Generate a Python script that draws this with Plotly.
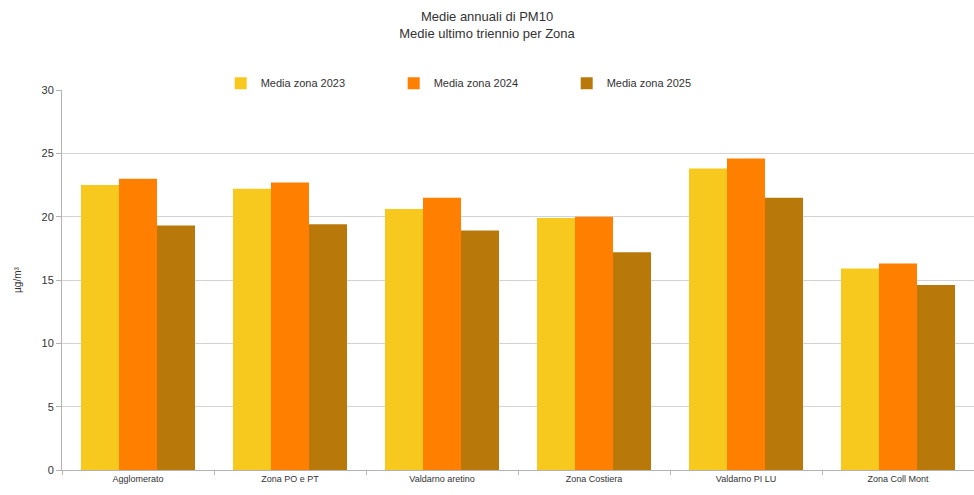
import plotly.graph_objects as go

# Annual PM10 means by zone, last three years
zones = ["Agglomerato", "Zona PO e PT", "Valdarno aretino", "Zona Costiera",
         "Valdarno PI LU", "Zona Coll Mont"]
media_2023 = [22.5, 22.2, 20.6, 19.9, 23.8, 15.9]
media_2024 = [23.0, 22.7, 21.5, 20.0, 24.6, 16.3]
media_2025 = [19.3, 19.4, 18.9, 17.2, 21.5, 14.6]

series = [
    ("Media zona 2023", media_2023, "#f7c91f"),
    ("Media zona 2024", media_2024, "#ff7f00"),
    ("Media zona 2025", media_2025, "#b8780a"),
]

fig = go.Figure()
for name, vals, color in series:
    fig.add_trace(go.Bar(x=zones, y=vals, name=name, marker=dict(color=color, line=dict(width=0))))

font_family = "Liberation Sans, Arial, sans-serif"

fig.update_layout(
    width=974, height=495,
    margin=dict(l=62, r=0, t=90, b=25),
    paper_bgcolor="white", plot_bgcolor="white",
    barmode="group", bargap=0.25, bargroupgap=0,
    font=dict(family=font_family, color="#333333"),
    title=dict(
        text="Medie annuali di PM10<br>Medie ultimo triennio per Zona",
        x=0.5, xref="container", xanchor="center",
        y=0.958, yanchor="top",
        font=dict(size=13, color="#333333"),
    ),
    legend=dict(
        orientation="h", x=0.174, xanchor="left", y=1.018, yanchor="middle",
        font=dict(size=11, color="#333333"),
        entrywidth=128, entrywidthmode="pixels",
        itemwidth=30, bgcolor="rgba(0,0,0,0)", traceorder="normal",
    ),
    xaxis=dict(
        showgrid=False, showline=True, linecolor="#b3b3b3", linewidth=1,
        ticks="outside", tickson="boundaries", ticklen=4, tickcolor="#b3b3b3",
        tickfont=dict(size=9, color="#333333"),
    ),
    yaxis=dict(
        range=[0, 30], dtick=5, showgrid=True, gridcolor="#d4d4d4", gridwidth=1,
        showline=True, linecolor="#b3b3b3", linewidth=1,
        ticks="outside", ticklen=5, tickcolor="#b3b3b3",
        tickfont=dict(size=11, color="#333333"),
        zeroline=False,
        title=dict(text="µg/m³", font=dict(size=10, color="#333333"), standoff=18),
    ),
)

fig.write_html("out.html")
